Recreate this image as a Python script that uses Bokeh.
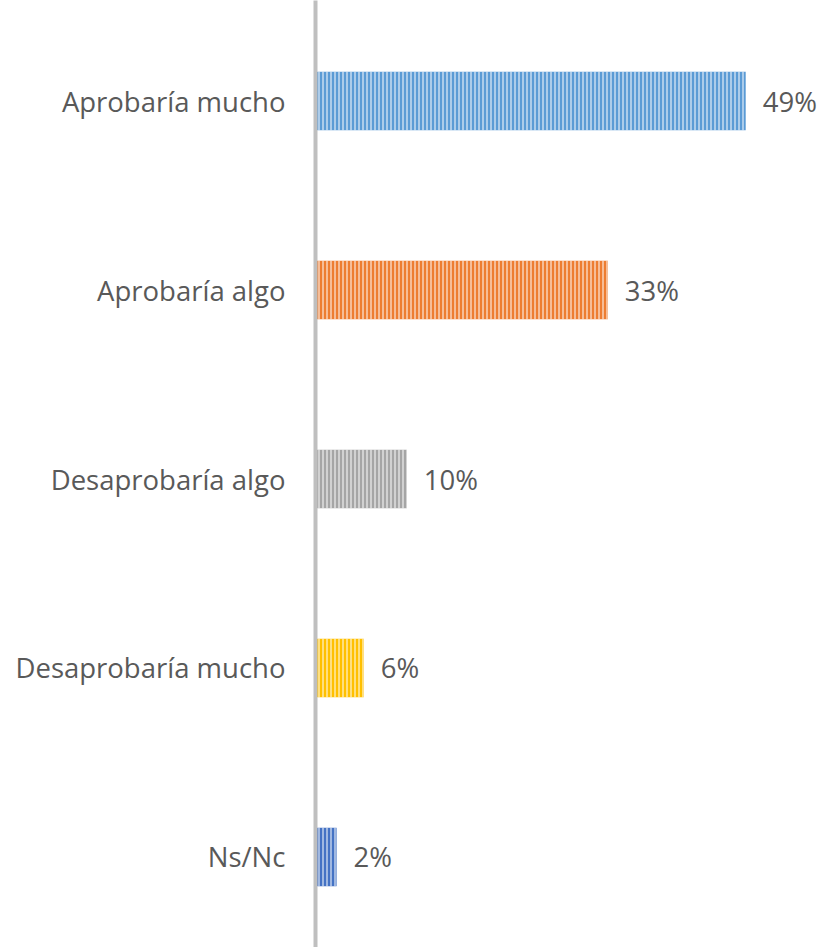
from bokeh.plotting import figure
from bokeh.models import ColumnDataSource, Range1d, FixedTicker
from bokeh.core.properties import value
from bokeh.embed import file_html
from bokeh.resources import INLINE

# Data (top to bottom as in the chart)
categories = ["Aprobaría mucho", "Aprobaría algo", "Desaprobaría algo", "Desaprobaría mucho", "Ns/Nc"]
percentages = [49.0, 33.3, 10.4, 5.5, 2.4]
labels = ["49%", "33%", "10%", "6%", "2%"]
colors = ["#5B9BD5", "#ED7D31", "#A5A5A5", "#FFC000", "#4472C4"]

n = len(categories)
ypos = [n - 1 - i for i in range(n)]  # first category at top

src = ColumnDataSource(dict(y=ypos, v=percentages, lab=labels, col=colors, cat=categories))

p = figure(width=833, height=947, output_backend="svg", toolbar_location=None,
           x_range=Range1d(0, 59), y_range=Range1d(-0.479, n - 1 + 0.532),
           min_border_left=315, min_border_right=0, min_border_top=0, min_border_bottom=0)

p.hbar(y="y", right="v", left=0, height=0.31, source=src, fill_color="col", line_color=None,
       hatch_pattern="vertical_line", hatch_color="white", hatch_alpha=0.55,
       hatch_scale=4, hatch_weight=1.8)

p.text(x="v", y="y", text="lab", source=src, x_offset=17, text_align="left",
       text_baseline="middle", text_font=value("Open Sans"), text_font_size="27.5px",
       text_color="#595959")

p.xaxis.visible = False
p.xgrid.visible = False
p.ygrid.visible = False
p.outline_line_color = None

ax = p.yaxis[0]
ax.ticker = FixedTicker(ticks=ypos)
ax.major_label_overrides = {y: c for y, c in zip(ypos, categories)}
ax.major_tick_line_color = None
ax.minor_tick_line_color = None
ax.axis_line_color = "#BFBFBF"
ax.axis_line_width = 4
ax.major_label_standoff = 24
ax.major_label_text_font = "Open Sans"
ax.major_label_text_font_size = "27.5px"
ax.major_label_text_color = "#595959"

open("out.html", "w").write(file_html(p, INLINE))
